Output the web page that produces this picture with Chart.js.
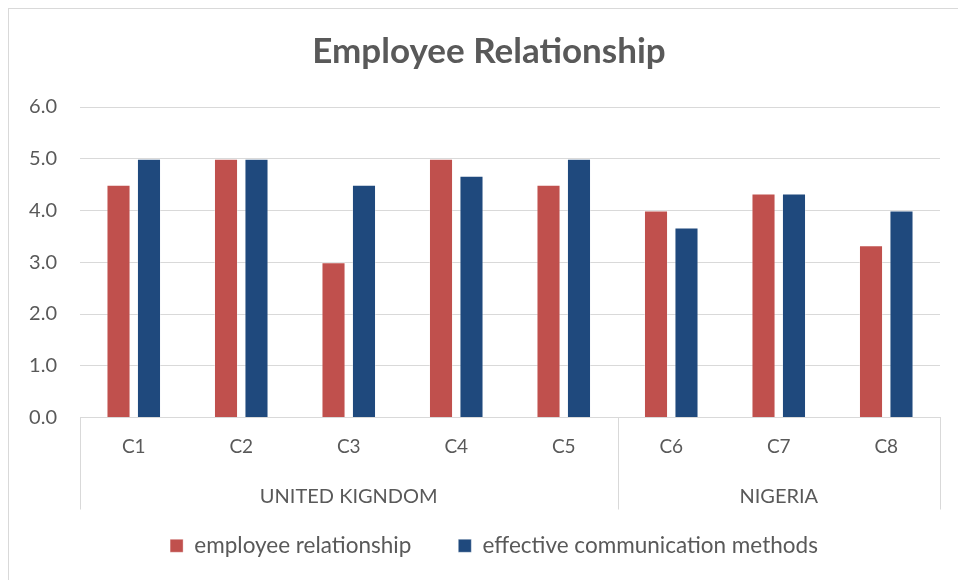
<!DOCTYPE html>
<html><head><meta charset="utf-8">
<script src="https://cdn.jsdelivr.net/npm/chart.js@4/dist/chart.umd.min.js"></script>
<style>html,body{margin:0;padding:0;background:#fff}</style>
</head><body>
<canvas id="c" width="958" height="580"></canvas>
<script>
const categories = ["C1", "C2", "C3", "C4", "C5", "C6", "C7", "C8"];
const groupNames = ["UNITED KIGNDOM", "NIGERIA"];
const groupSizes = [5, 3];
const employeeRelationship = [4.5, 5.0, 3.0, 5.0, 4.5, 4.0, 4.33, 3.33];
const effectiveCommunication = [5.0, 5.0, 4.5, 4.67, 5.0, 3.67, 4.33, 4.0];
const seriesNames = ["employee relationship", "effective communication methods"];

const TEXT = '#595959';
const GRID = '#D9D9D9';
const FONT = 'Lato, "Open Sans", sans-serif';
const AXIS_BLOCK = 92;

const frame = {
  id: 'frame',
  beforeDraw(chart) {
    const ctx = chart.ctx;
    ctx.save();
    ctx.fillStyle = '#fff';
    ctx.fillRect(0, 0, chart.width, chart.height);
    ctx.strokeStyle = GRID;
    ctx.lineWidth = 1;
    ctx.strokeRect(8.5, 8.5, chart.width + 20, chart.height + 20);
    ctx.restore();
  }
};

const shiftBoxes = {
  id: 'shiftBoxes',
  afterLayout(chart) {
    if (chart.titleBlock) { chart.titleBlock.left += 19; chart.titleBlock.right += 19; }
    if (chart.legend) { chart.legend.left += 24; chart.legend.right += 24; }
  }
};

const groups = {
  id: 'groups',
  afterDraw(chart) {
    const x = chart.scales.x;
    const ctx = chart.ctx;
    const top = x.top;
    const bottom = x.top + AXIS_BLOCK;
    const half = (x.getPixelForValue(1) - x.getPixelForValue(0)) / 2;
    ctx.save();
    ctx.strokeStyle = GRID;
    ctx.lineWidth = 1;
    ctx.fillStyle = TEXT;
    ctx.font = '20px ' + FONT;
    ctx.textAlign = 'center';
    ctx.textBaseline = 'middle';
    let start = 0;
    const edges = [x.getPixelForValue(0) - half];
    groupSizes.forEach((n, gi) => {
      const l = x.getPixelForValue(start) - half;
      const r = x.getPixelForValue(start + n - 1) + half;
      edges.push(r);
      ctx.fillText(groupNames[gi], (l + r) / 2, top + 79);
      start += n;
    });
    edges.forEach(e => {
      const px = Math.round(e) + 0.5;
      ctx.beginPath();
      ctx.moveTo(px, top);
      ctx.lineTo(px, bottom);
      ctx.stroke();
    });
    ctx.restore();
  }
};

new Chart(document.getElementById('c'), {
  type: 'bar',
  data: {
    labels: categories,
    datasets: [
      { label: seriesNames[0], data: employeeRelationship, backgroundColor: '#C0504D', borderColor: 'rgba(255,255,255,0.35)', borderWidth: 1 },
      { label: seriesNames[1], data: effectiveCommunication, backgroundColor: '#1F497D', borderColor: 'rgba(255,255,255,0.35)', borderWidth: 1 }
    ]
  },
  options: {
    responsive: false,
    animation: false,
    devicePixelRatio: 1,
    categoryPercentage: 0.567,
    barPercentage: 0.79,
    layout: { padding: { left: 0, right: 18, top: 0, bottom: 13 } },
    plugins: {
      title: {
        display: true,
        text: 'Employee Relationship',
        color: TEXT,
        font: { family: FONT, size: 35, weight: 'bold', lineHeight: 1.2 },
        padding: { top: 30.5, bottom: 34.5 }
      },
      legend: {
        position: 'bottom',
        labels: {
          color: TEXT,
          font: { family: FONT, size: 22.5 },
          boxWidth: 13,
          boxHeight: 13,
          padding: 47
        }
      },
      tooltip: { enabled: false }
    },
    scales: {
      x: {
        grid: { display: false, drawTicks: false },
        border: { display: true, color: GRID },
        ticks: { color: TEXT, font: { family: FONT, size: 19 }, padding: 18 },
        afterFit(s) { s.height = 70; }
      },
      y: {
        min: 0, max: 6,
        grid: { color: GRID, drawTicks: false },
        border: { display: false },
        ticks: { stepSize: 1, color: TEXT, font: { family: FONT, size: 20 }, padding: 23,
          callback: v => Number(v).toFixed(1) },
        afterFit(s) { s.width = 80; }
      }
    }
  },
  plugins: [frame, shiftBoxes, groups]
});
</script>
</body></html>
